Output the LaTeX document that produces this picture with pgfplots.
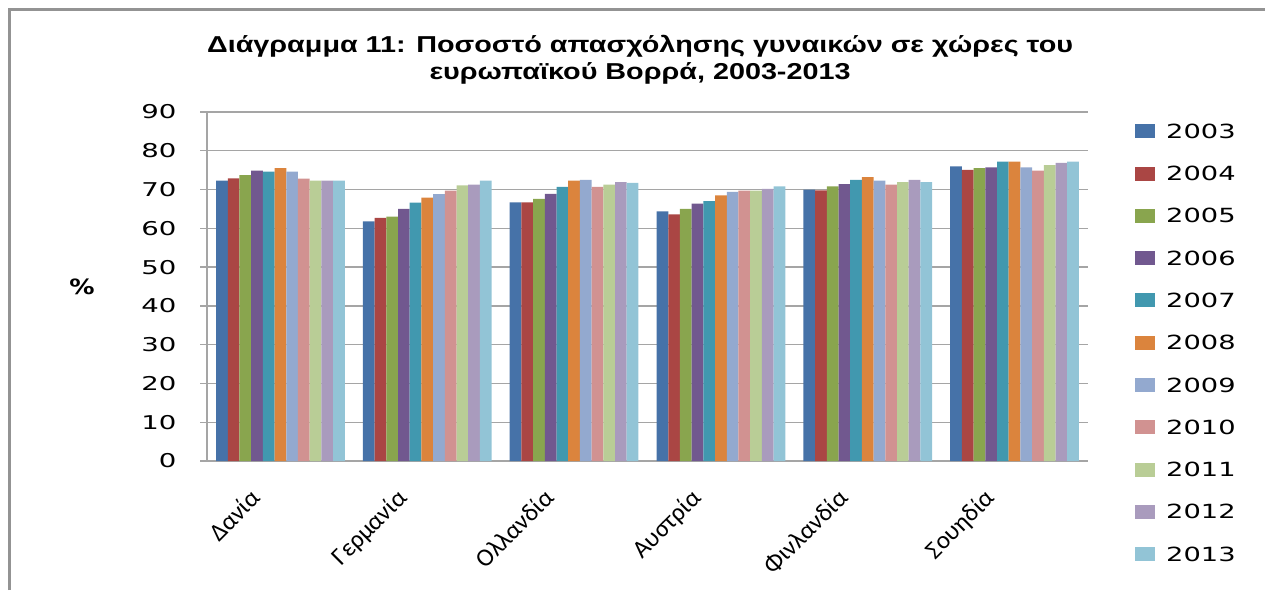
\documentclass[border=0pt]{standalone}
\usepackage{fontspec}
\setmainfont{DejaVu Sans}
\newfontfamily\tickfont[FakeStretch=1.45]{DejaVu Sans}
\newfontfamily\legfont[FakeStretch=1.4]{DejaVu Sans}
\newfontfamily\pctfont[FakeStretch=1.2]{DejaVu Sans Bold}
\newfontfamily\catfont{Carlito}
\newfontfamily\titlefont[FakeStretch=1.25]{Liberation Sans Bold}
\usepackage{pgfplots}
\pgfplotsset{compat=1.18}
\usepackage{pgfplotstable}

\definecolor{c03}{RGB}{70,114,168}
\definecolor{c04}{RGB}{170,70,68}
\definecolor{c05}{RGB}{137,165,78}
\definecolor{c06}{RGB}{113,88,143}
\definecolor{c07}{RGB}{65,152,175}
\definecolor{c08}{RGB}{219,132,61}
\definecolor{c09}{RGB}{147,169,207}
\definecolor{c10}{RGB}{209,146,145}
\definecolor{c11}{RGB}{185,205,150}
\definecolor{c12}{RGB}{169,155,189}
\definecolor{c13}{RGB}{146,196,214}
\definecolor{gridc}{RGB}{165,165,165}

% columns: x = country index, then years 2003..2013
\pgfplotstableread{
x  y03  y04  y05  y06  y07  y08  y09  y10  y11  y12  y13
0  72.3 72.9 73.7 74.9 74.6 75.5 74.6 72.8 72.3 72.3 72.3
1  61.8 62.7 63.0 65.0 66.6 67.9 68.8 69.7 71.1 71.3 72.3
2  66.7 66.7 67.6 68.9 70.7 72.3 72.5 70.7 71.3 71.9 71.7
3  64.4 63.6 65.0 66.4 67.0 68.5 69.4 69.7 69.7 70.2 70.8
4  70.0 69.8 70.8 71.4 72.5 73.2 72.3 71.3 71.9 72.5 71.9
5  76.0 75.1 75.5 75.7 77.2 77.2 75.7 74.9 76.3 76.9 77.2
}\datatable

\begin{document}
\begin{tikzpicture}[x=1pt,y=1pt]
\path[use as bounding box] (0,0) rectangle (1265,590);
\draw[color=gray!85, line width=3pt] (9.5,0) -- (9.5,580) -- (1265,580);
\node[font=\titlefont\fontsize{23}{27}\selectfont, align=center] at (640,530)
  {Διάγραμμα 11: Ποσοστό απασχόλησης γυναικών σε χώρες του\\ευρωπαϊκού Βορρά, 2003-2013};
\begin{axis}[
  at={(207pt,129pt)}, anchor=south west,
  scale only axis, width=881pt, height=349pt,
  ybar=0pt, bar width=11.7pt,
  xmin=-0.5, xmax=5.5, ymin=0, ymax=90,
  ytick={0,10,...,90},
  xtick={0,...,5},
  xticklabels={Δανία,Γερμανία,Ολλανδία,Αυστρία,Φινλανδία,Σουηδία},
  xticklabel style={font=\catfont\fontsize{25}{30}\selectfont, xshift=-31pt, yshift=-14pt, rotate=45, anchor=north east},
  x tick style={draw=none},
  axis x line*=bottom, axis y line*=left,
  axis line style={draw=gridc, line width=1.4pt, -},
  ymajorgrids, grid style={draw=gridc, line width=1.4pt},
  y tick style={draw=gridc, line width=1.4pt},
  tick align=outside, major tick length=7pt,
  /pgf/number format/assume math mode=true,
  yticklabel style={font=\tickfont\fontsize{19}{22}\selectfont, xshift=-20pt},
  ylabel={\%},
  every axis y label/.style={at={(axis description cs:0,0.5)}, anchor=center, xshift=-125pt, font=\pctfont\fontsize{21}{25}\selectfont},
  legend style={draw=none, at={(1,1)}, anchor=north west, xshift=44pt, yshift=-8pt,
    font=\legfont\fontsize{19.5}{22}\selectfont,
    nodes={text height=14pt, text depth=0pt, inner sep=2pt}, row sep=24.3pt,
    /tikz/every odd column/.append style={column sep=9pt}},
  legend cell align=left,
  legend image code/.code={\fill[#1, draw=none] (0pt,-7pt) rectangle (20pt,7pt);},
]
\addplot[fill=c03, draw=none] table[x=x,y=y03]{\datatable};
\addplot[fill=c04, draw=none] table[x=x,y=y04]{\datatable};
\addplot[fill=c05, draw=none] table[x=x,y=y05]{\datatable};
\addplot[fill=c06, draw=none] table[x=x,y=y06]{\datatable};
\addplot[fill=c07, draw=none] table[x=x,y=y07]{\datatable};
\addplot[fill=c08, draw=none] table[x=x,y=y08]{\datatable};
\addplot[fill=c09, draw=none] table[x=x,y=y09]{\datatable};
\addplot[fill=c10, draw=none] table[x=x,y=y10]{\datatable};
\addplot[fill=c11, draw=none] table[x=x,y=y11]{\datatable};
\addplot[fill=c12, draw=none] table[x=x,y=y12]{\datatable};
\addplot[fill=c13, draw=none] table[x=x,y=y13]{\datatable};
\legend{2003,2004,2005,2006,2007,2008,2009,2010,2011,2012,2013}
\end{axis}
\end{tikzpicture}
\end{document}
